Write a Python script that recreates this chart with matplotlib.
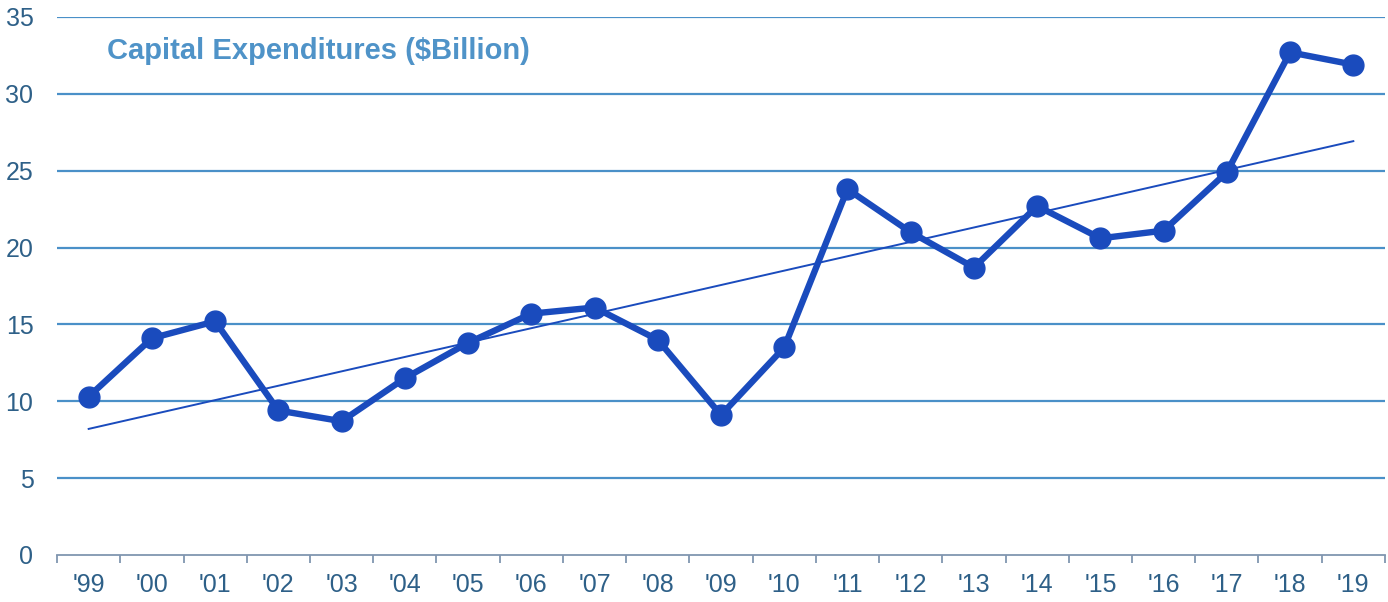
import numpy as np
import matplotlib
matplotlib.use("Agg")
import matplotlib.pyplot as plt

years = ["'99", "'00", "'01", "'02", "'03", "'04", "'05", "'06", "'07", "'08", "'09",
         "'10", "'11", "'12", "'13", "'14", "'15", "'16", "'17", "'18", "'19"]
capex = [10.3, 14.1, 15.2, 9.4, 8.7, 11.5, 13.8, 15.7, 16.1, 14.0, 9.1,
         13.5, 23.8, 21.0, 18.7, 22.7, 20.6, 21.1, 24.9, 32.7, 31.9]
y_ticks = [0, 5, 10, 15, 20, 25, 30, 35]

plt.rcParams["font.family"] = ["Liberation Sans", "DejaVu Sans"]

line_color = "#1a4bbd"
grid_color = "#4a90c8"
label_color = "#2e6088"

fig = plt.figure(figsize=(13.88, 6.02), dpi=100)
ax = fig.add_axes([0.0411, 0.0781, 0.9567, 0.8937])

x = np.arange(len(years))
ax.plot(x, capex, color=line_color, linewidth=4.6, marker="o", markersize=15,
        solid_joinstyle="round", zorder=4)

# linear trend line
k, b = np.polyfit(x, capex, 1)
ax.plot(x, k * x + b, color=line_color, linewidth=1.4, zorder=3)

ax.set_xlim(-0.5, len(years) - 0.5)
ax.set_ylim(0, 35)
ax.set_yticks(y_ticks)
ax.set_yticklabels([str(t) for t in y_ticks])
for t in y_ticks[1:]:
    ax.axhline(t, color=grid_color, linewidth=1.6, zorder=1)

ax.set_xticks(x)
ax.set_xticklabels(years)
ax.set_xticks(np.arange(-0.5, len(years)), minor=True)
ax.tick_params(axis="x", which="major", length=0, pad=13, labelsize=18, labelcolor=label_color)
ax.tick_params(axis="x", which="minor", length=6, width=1.3, color="#8096b0", direction="out")
ax.tick_params(axis="y", length=0, pad=17, labelsize=18, labelcolor=label_color)

for s in ["top", "right", "left"]:
    ax.spines[s].set_visible(False)
ax.spines["bottom"].set_color("#8096b0")
ax.spines["bottom"].set_linewidth(1.3)

ax.text(0.0377, 0.937, "Capital Expenditures ($Billion)", transform=ax.transAxes,
        fontsize=21, fontweight="bold", color="#4f93c8", va="center", ha="left")

fig.savefig("out.png", dpi=100)
